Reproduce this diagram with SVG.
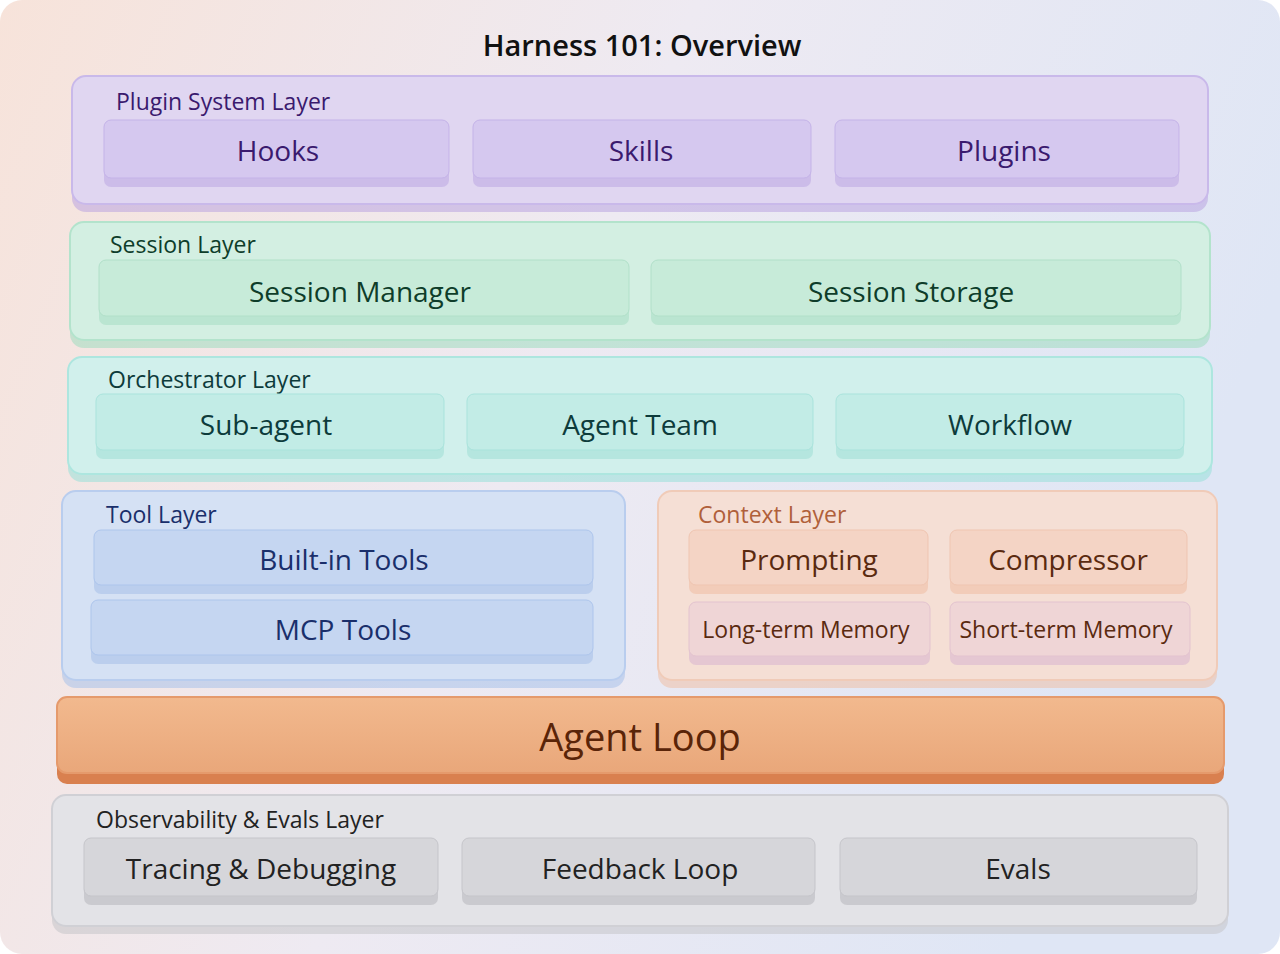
<svg xmlns="http://www.w3.org/2000/svg" width="1280" height="954" viewBox="0 0 1280 954">
<defs>
<linearGradient id="bg" x1="0" y1="0" x2="1" y2="0.3"><stop offset="0" stop-color="#f7e3da"/><stop offset="0.5" stop-color="#eeeaf2"/><stop offset="1" stop-color="#dfe6f5"/></linearGradient>
<linearGradient id="loop" x1="0" y1="0" x2="0" y2="1"><stop offset="0" stop-color="#f2b98e"/><stop offset="1" stop-color="#e9a77a"/></linearGradient>
<style>
text{font-family:"Open Sans","Noto Sans",sans-serif}
.t{font-size:28px;text-anchor:middle;dominant-baseline:central}
.s{font-size:23px;text-anchor:middle;dominant-baseline:central}
.l{font-size:23px}
.edge{opacity:0.55}
</style>
</defs>
<rect width="1280" height="954" rx="22" fill="url(#bg)"/>
<text x="642" y="44" font-size="29" font-weight="600" text-anchor="middle" dominant-baseline="central" fill="#111">Harness 101: Overview</text>

<g id="plugin-layer">
<rect x="72" y="80" width="1136" height="132" rx="14" fill="#b9a4e0" class="edge"/>
<rect x="72" y="76" width="1136" height="128" rx="14" fill="#e0d6f1" stroke="#c9b9ea" stroke-width="2"/>
<text x="116" y="101" class="l" fill="#3a1a6e" dominant-baseline="central">Plugin System Layer</text>
<g id="hooks"><rect x="104" y="124" width="345" height="63" rx="7" fill="#bba7e2" class="edge"/><rect x="104" y="120" width="345" height="58" rx="7" fill="#d5c8ef" stroke="#c4b3e8"/><text x="278" y="150" class="t" fill="#3a1a6e">Hooks</text></g>
<g id="skills"><rect x="473" y="124" width="338" height="63" rx="7" fill="#bba7e2" class="edge"/><rect x="473" y="120" width="338" height="58" rx="7" fill="#d5c8ef" stroke="#c4b3e8"/><text x="641" y="150" class="t" fill="#3a1a6e">Skills</text></g>
<g id="plugins"><rect x="835" y="124" width="344" height="63" rx="7" fill="#bba7e2" class="edge"/><rect x="835" y="120" width="344" height="58" rx="7" fill="#d5c8ef" stroke="#c4b3e8"/><text x="1004" y="150" class="t" fill="#3a1a6e">Plugins</text></g>
</g>

<g id="session-layer">
<rect x="70" y="226" width="1140" height="122" rx="14" fill="#9fdcbf" class="edge"/>
<rect x="70" y="222" width="1140" height="118" rx="14" fill="#d3efe2" stroke="#b3e3cc" stroke-width="2"/>
<text x="110" y="244" class="l" fill="#0e3d2a" dominant-baseline="central">Session Layer</text>
<g id="session-manager"><rect x="99" y="264" width="530" height="61" rx="7" fill="#a6dcc2" class="edge"/><rect x="99" y="260" width="530" height="56" rx="7" fill="#c7ebd9" stroke="#b1e0c9"/><text x="360" y="291" class="t" fill="#0e3d2a">Session Manager</text></g>
<g id="session-storage"><rect x="651" y="264" width="530" height="61" rx="7" fill="#a6dcc2" class="edge"/><rect x="651" y="260" width="530" height="56" rx="7" fill="#c7ebd9" stroke="#b1e0c9"/><text x="911" y="291" class="t" fill="#0e3d2a">Session Storage</text></g>
</g>

<g id="orchestrator-layer">
<rect x="68" y="361" width="1144" height="121" rx="14" fill="#98e0d8" class="edge"/>
<rect x="68" y="357" width="1144" height="117" rx="14" fill="#d1f0ec" stroke="#ade6df" stroke-width="2"/>
<text x="108" y="379" class="l" fill="#0d3b3b" dominant-baseline="central">Orchestrator Layer</text>
<g id="sub-agent"><rect x="96" y="398" width="348" height="61" rx="7" fill="#9edfd6" class="edge"/><rect x="96" y="394" width="348" height="56" rx="7" fill="#c2ece6" stroke="#a9e3dc"/><text x="266" y="424" class="t" fill="#0d3b3b">Sub-agent</text></g>
<g id="agent-team"><rect x="467" y="398" width="346" height="61" rx="7" fill="#9edfd6" class="edge"/><rect x="467" y="394" width="346" height="56" rx="7" fill="#c2ece6" stroke="#a9e3dc"/><text x="640" y="424" class="t" fill="#0d3b3b">Agent Team</text></g>
<g id="workflow"><rect x="836" y="398" width="348" height="61" rx="7" fill="#9edfd6" class="edge"/><rect x="836" y="394" width="348" height="56" rx="7" fill="#c2ece6" stroke="#a9e3dc"/><text x="1010" y="424" class="t" fill="#0d3b3b">Workflow</text></g>
</g>

<g id="tool-layer">
<rect x="62" y="495" width="563" height="193" rx="14" fill="#a7c1ea" class="edge"/>
<rect x="62" y="491" width="563" height="189" rx="14" fill="#d5e1f4" stroke="#b9cdee" stroke-width="2"/>
<text x="106" y="514" class="l" fill="#1a2f6b" dominant-baseline="central">Tool Layer</text>
<g id="built-in-tools"><rect x="94" y="534" width="499" height="60" rx="7" fill="#a5bfe8" class="edge"/><rect x="94" y="530" width="499" height="55" rx="7" fill="#c5d6f1" stroke="#adc5ec"/><text x="344" y="559" class="t" fill="#1a2f6b">Built-in Tools</text></g>
<g id="mcp-tools"><rect x="91" y="604" width="502" height="60" rx="7" fill="#a5bfe8" class="edge"/><rect x="91" y="600" width="502" height="55" rx="7" fill="#c5d6f1" stroke="#adc5ec"/><text x="343" y="629" class="t" fill="#1a2f6b">MCP Tools</text></g>
</g>

<g id="context-layer">
<rect x="658" y="495" width="559" height="193" rx="14" fill="#eebfa6" class="edge"/>
<rect x="658" y="491" width="559" height="189" rx="14" fill="#f5dfd5" stroke="#f0cbb8" stroke-width="2"/>
<text x="698" y="514" class="l" fill="#b0603a" dominant-baseline="central">Context Layer</text>
<g id="prompting"><rect x="689" y="534" width="239" height="60" rx="7" fill="#eebba3" class="edge"/><rect x="689" y="530" width="239" height="55" rx="7" fill="#f4d4c5" stroke="#efc5b1"/><text x="809" y="559" class="t" fill="#5a2a10">Prompting</text></g>
<g id="compressor"><rect x="950" y="534" width="237" height="60" rx="7" fill="#eebba3" class="edge"/><rect x="950" y="530" width="237" height="55" rx="7" fill="#f4d4c5" stroke="#efc5b1"/><text x="1068" y="559" class="t" fill="#5a2a10">Compressor</text></g>
<g id="long-term-memory"><rect x="689" y="606" width="241" height="59" rx="7" fill="#d7b3cf" class="edge"/><rect x="689" y="602" width="241" height="54" rx="7" fill="#efd5d6" stroke="#e3c3cf"/><text x="806" y="629" class="s" fill="#5a2a10">Long-term Memory</text></g>
<g id="short-term-memory"><rect x="950" y="606" width="240" height="59" rx="7" fill="#d7b3cf" class="edge"/><rect x="950" y="602" width="240" height="54" rx="7" fill="#efd5d6" stroke="#e3c3cf"/><text x="1066" y="629" class="s" fill="#5a2a10">Short-term Memory</text></g>
</g>

<g id="agent-loop">
<rect x="57" y="701" width="1167" height="83" rx="10" fill="#d9804f"/>
<rect x="57" y="697" width="1167" height="76" rx="10" fill="url(#loop)" stroke="#e59a6c" stroke-width="2"/>
<text x="640" y="736" font-size="38" text-anchor="middle" dominant-baseline="central" fill="#5a2408">Agent Loop</text>
</g>

<g id="observability-layer">
<rect x="52" y="799" width="1176" height="135" rx="14" fill="#c4c4c8" class="edge"/>
<rect x="52" y="795" width="1176" height="131" rx="14" fill="#e3e3e7" stroke="#d0d0d5" stroke-width="2"/>
<text x="96" y="819" class="l" fill="#222" dominant-baseline="central">Observability &amp; Evals Layer</text>
<g id="tracing"><rect x="84" y="842" width="354" height="63" rx="7" fill="#b7b7bc" class="edge"/><rect x="84" y="838" width="354" height="58" rx="7" fill="#d6d6da" stroke="#c5c5ca"/><text x="261" y="868" class="t" fill="#222">Tracing &amp; Debugging</text></g>
<g id="feedback-loop"><rect x="462" y="842" width="353" height="63" rx="7" fill="#b7b7bc" class="edge"/><rect x="462" y="838" width="353" height="58" rx="7" fill="#d6d6da" stroke="#c5c5ca"/><text x="640" y="868" class="t" fill="#222">Feedback Loop</text></g>
<g id="evals"><rect x="840" y="842" width="357" height="63" rx="7" fill="#b7b7bc" class="edge"/><rect x="840" y="838" width="357" height="58" rx="7" fill="#d6d6da" stroke="#c5c5ca"/><text x="1018" y="868" class="t" fill="#222">Evals</text></g>
</g>
<g id="connectors"/>
</svg>
